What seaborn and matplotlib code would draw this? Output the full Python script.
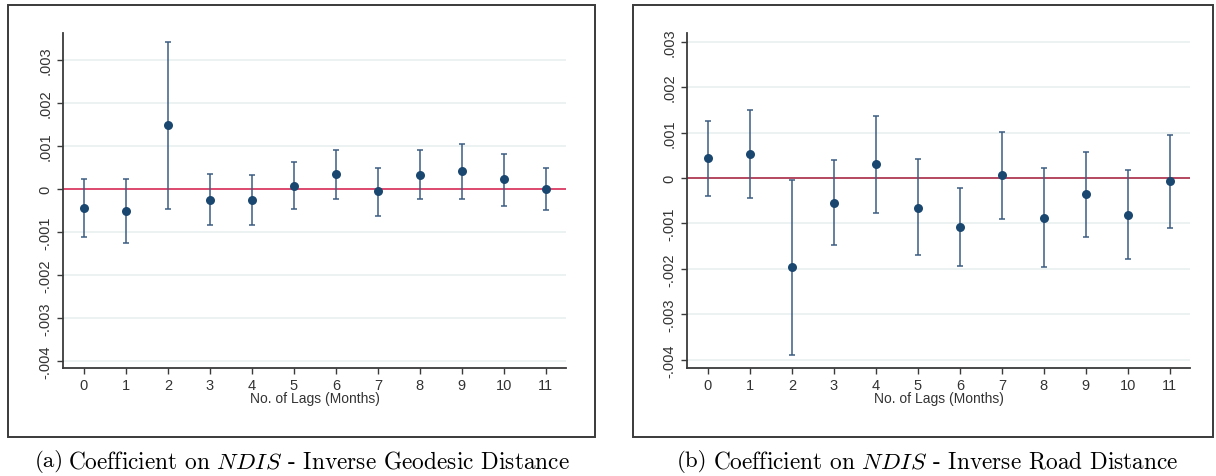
import numpy as np
import pandas as pd
import matplotlib
matplotlib.use("Agg")
import matplotlib.pyplot as plt
from matplotlib.patches import Rectangle
import seaborn as sns

# Lag index (months)
lags = list(range(12))

# Panel (a): inverse geodesic distance — point estimates and 95% CI bounds
geo_coef = [-0.00044, -0.00052, 0.00148, -0.00025, -0.00026, 0.00008,
            0.00035, -0.00005, 0.00033, 0.00041, 0.00023, 0.00001]
geo_lo = [-0.00112, -0.00126, -0.00046, -0.00084, -0.00084, -0.00046,
          -0.00023, -0.00062, -0.00024, -0.00024, -0.00039, -0.00048]
geo_hi = [0.000225, 0.000225, 0.00343, 0.00034, 0.00032, 0.00062,
          0.00091, 0.00050, 0.00091, 0.00105, 0.00081, 0.00048]

# Panel (b): inverse road distance
road_coef = [0.00044, 0.00053, -0.00196, -0.00054, 0.00030, -0.00065,
             -0.00107, 0.00007, -0.00088, -0.00035, -0.00081, -0.00006]
road_lo = [-0.00040, -0.00045, -0.00389, -0.00147, -0.00078, -0.00169,
           -0.00193, -0.00091, -0.00196, -0.00129, -0.00178, -0.00109]
road_hi = [0.00126, 0.00149, -0.00004, 0.00040, 0.00136, 0.00042,
           -0.00021, 0.00102, 0.00022, 0.00058, 0.00018, 0.00095]

yticks = [-0.004, -0.003, -0.002, -0.001, 0.0, 0.001, 0.002, 0.003]
ytick_labels = ["-.004", "-.003", "-.002", "-.001", "0", ".001", ".002", ".003"]
xlabel = "No. of Lags (Months)"

sns.set_theme(style="white")
plt.rcParams["font.family"] = ["Liberation Sans", "DejaVu Sans"]
plt.rcParams["mathtext.fontset"] = "cm"

W, H = 1216, 477
fig = plt.figure(figsize=(W / 100, H / 100), dpi=100)
fig.patch.set_facecolor("white")

NAVY = "#1a476f"
BAR = "#3b5d82"
GRID = "#e9f0f0"
SPINE = "#3a3a3a"


def px_axes(x0, y0, x1, y1):
    return fig.add_axes([x0 / W, 1 - y1 / H, (x1 - x0) / W, (y1 - y0) / H])


def draw_panel(ax, coef, lo, hi, ylim, zero_color):
    df = pd.DataFrame({"lag": lags, "coef": coef, "lo": lo, "hi": hi})
    for y in yticks:
        ax.axhline(y, color=GRID, lw=1.2, zorder=0)
    ax.axhline(0, color=zero_color, lw=1.1, zorder=1)
    ax.errorbar(df["lag"], df["coef"],
                yerr=[df["coef"] - df["lo"], df["hi"] - df["coef"]],
                fmt="none", ecolor=BAR, elinewidth=1.1, capsize=2.3,
                capthick=1.1, zorder=2)
    sns.scatterplot(data=df, x="lag", y="coef", ax=ax, s=42, color=NAVY,
                    edgecolor=NAVY, linewidth=0, zorder=3, legend=False)
    ax.set_xlim(-0.5, 11.48)
    ax.set_ylim(*ylim)
    ax.set_xticks(lags)
    ax.set_xticklabels([str(l) for l in lags])
    ax.set_yticks(yticks)
    ax.set_yticklabels(ytick_labels, rotation=90, va="center")
    ax.tick_params(axis="both", direction="out", length=4.5, width=1.0,
                   color=SPINE, labelsize=10.5, labelcolor="#333333", pad=3,
                   left=True, bottom=True)
    ax.set_xlabel(xlabel, fontsize=10, color="#333333", labelpad=-1)
    ax.set_ylabel("")
    for side in ("top", "right"):
        ax.spines[side].set_visible(False)
    for side in ("left", "bottom"):
        ax.spines[side].set_color(SPINE)
        ax.spines[side].set_linewidth(1.3)
    ax.set_facecolor("white")


ax_a = px_axes(63, 34, 566, 369)
draw_panel(ax_a, geo_coef, geo_lo, geo_hi, (-0.00416, 0.00363), "#d81b4a")

ax_b = px_axes(687, 34, 1190, 369)
draw_panel(ax_b, road_coef, road_lo, road_hi, (-0.00418, 0.00319), "#a51a3a")

# Outer frames around each graph
for (x0, x1) in [(8, 595), (633, 1213)]:
    fig.patches.append(Rectangle((x0 / W, 1 - 438 / H), (x1 - x0) / W, (438 - 6) / H,
                                 transform=fig.transFigure, fill=False,
                                 edgecolor="#3a3a3a", linewidth=1.4))

# Sub-captions
cap_y = 1 - 462 / H
for x_lab, x_txt, lab, txt in [
    (35, 68, "(a)", r"Coefficient on $NDIS$ - Inverse Geodesic Distance"),
    (677, 713, "(b)", r"Coefficient on $NDIS$ - Inverse Road Distance"),
]:
    fig.text(x_lab / W, cap_y, lab, family="cmr10", fontsize=16.5,
             ha="left", va="center", color="black")
    fig.text(x_txt / W, cap_y, txt, family="cmr10", fontsize=16.8,
             ha="left", va="center", color="black")

fig.savefig("out.png", dpi=100, facecolor="white")
